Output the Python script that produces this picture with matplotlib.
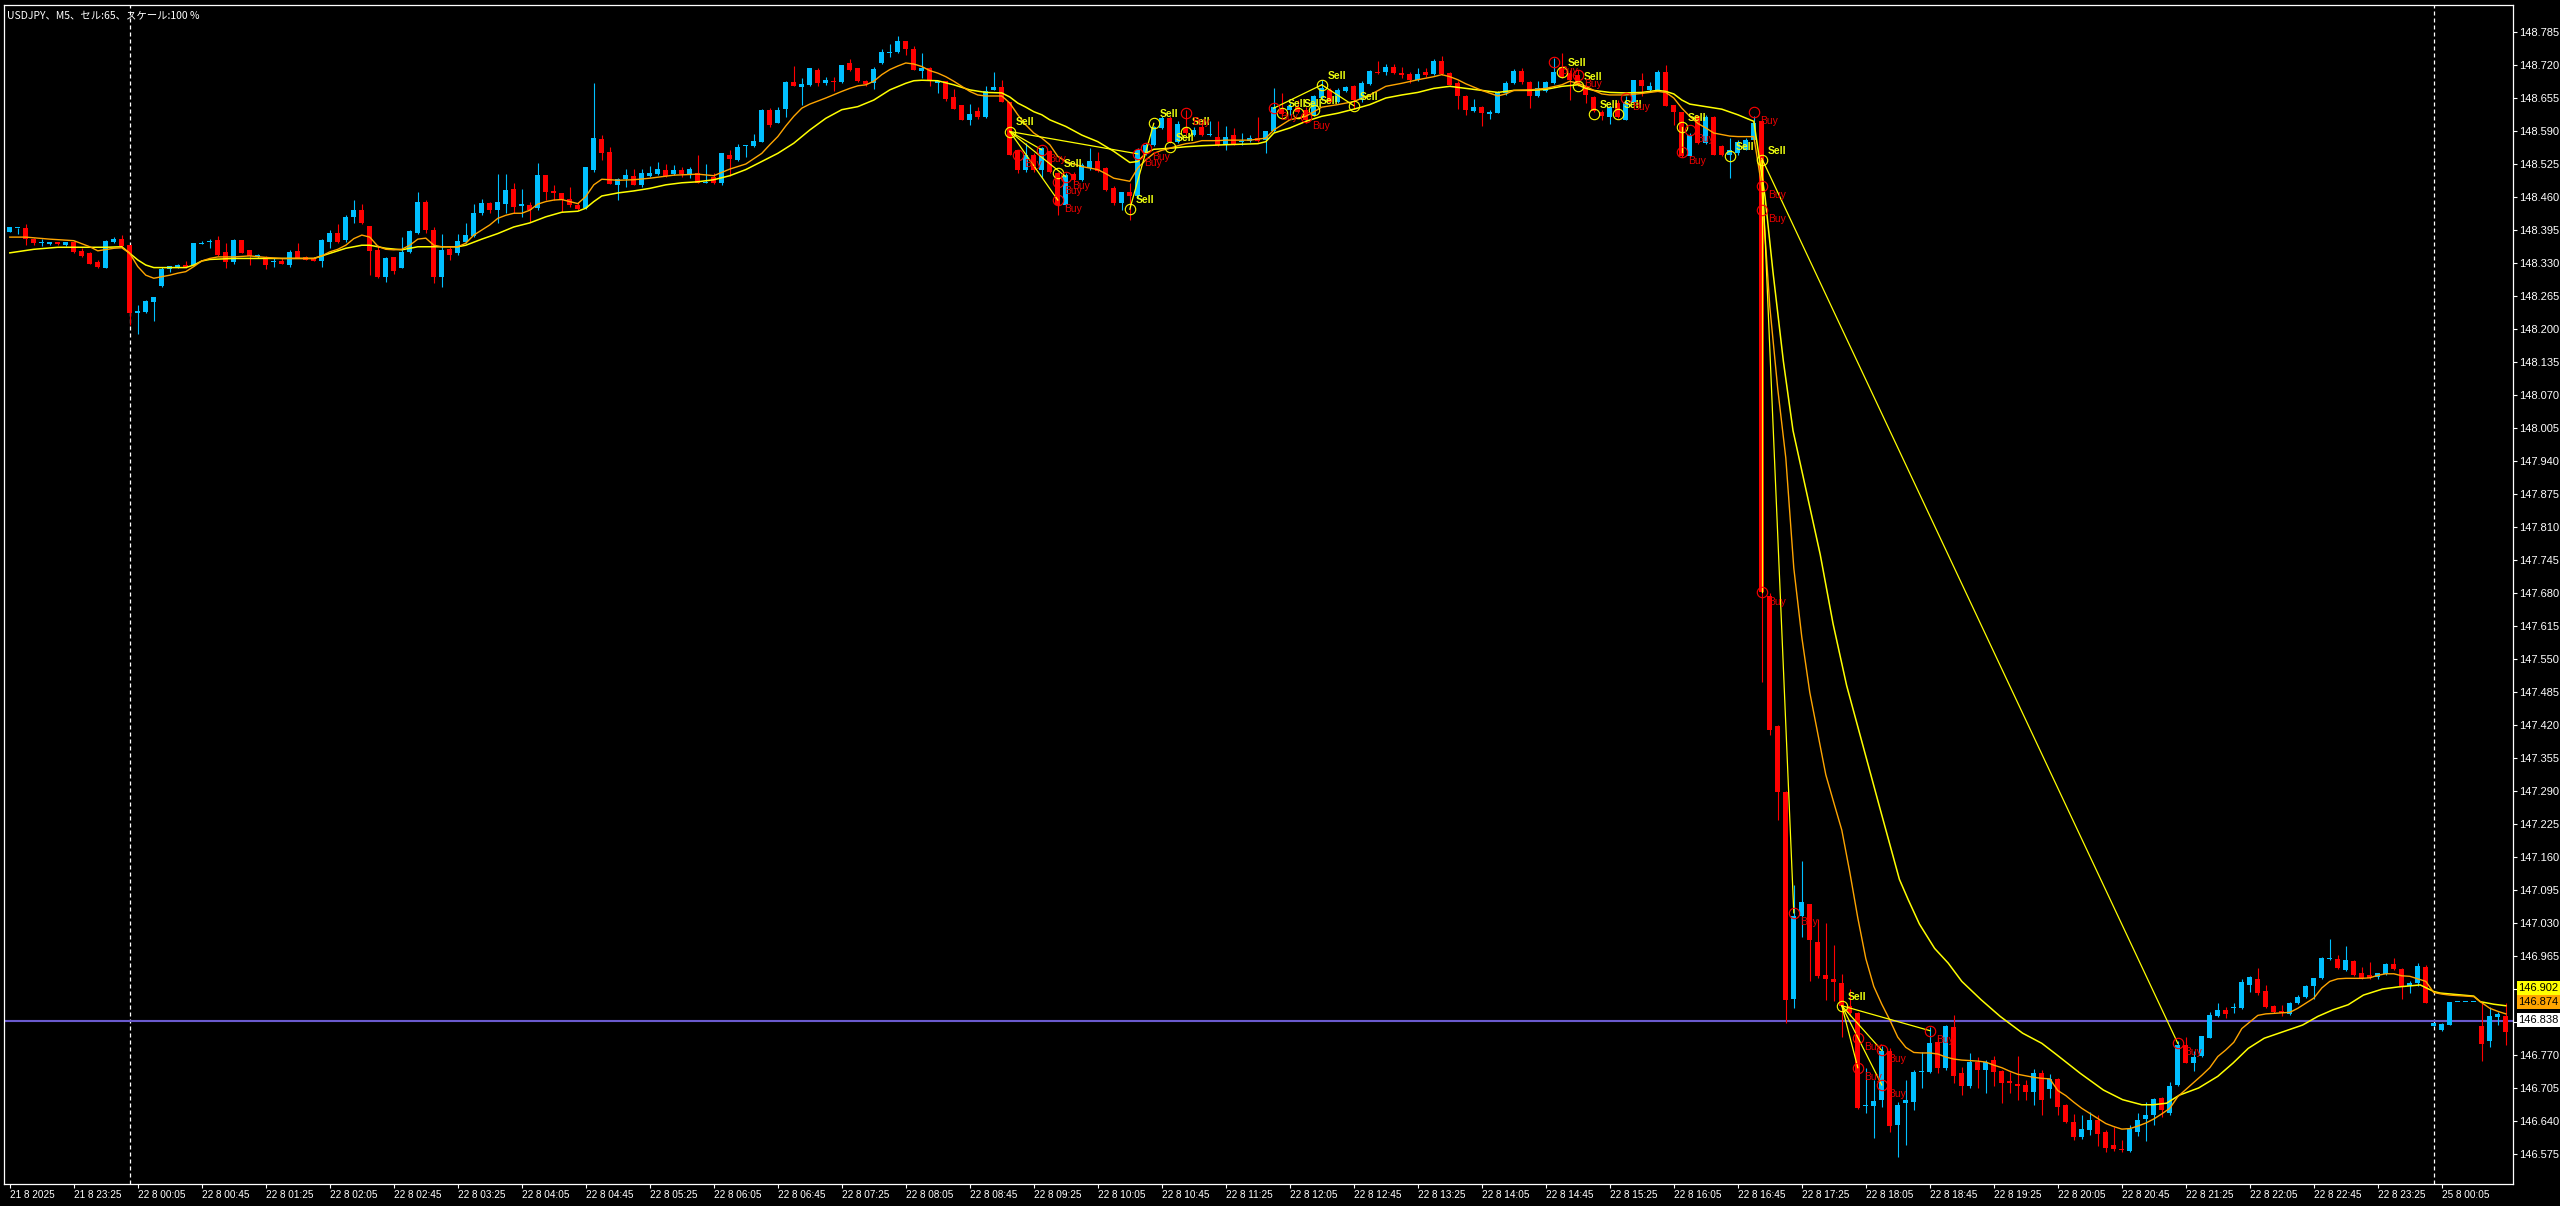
import matplotlib
matplotlib.use("Agg")
import matplotlib.pyplot as plt
import matplotlib.transforms as mtransforms

# ---------------- data ----------------
opens = [
148.392,148.398,148.398,148.378,148.369,148.367,148.371,148.365,148.372,148.354,
148.349,148.331,148.321,148.371,148.377,148.365,148.231,148.233,148.254,148.285,
148.319,148.321,148.327,148.326,148.368,148.371,148.375,148.352,148.331,148.375,
148.356,148.341,148.342,148.331,148.333,148.327,148.354,148.342,148.340,148.333,
148.372,148.390,148.375,148.421,148.434,148.403,148.356,148.303,148.341,148.321,
148.351,148.390,148.451,148.395,148.303,148.357,148.349,148.372,148.384,148.428,
148.449,148.434,148.446,148.476,148.442,148.444,148.438,148.503,148.472,148.467,
148.457,148.444,148.438,148.513,148.574,148.549,148.484,148.495,148.501,148.484,
148.502,148.505,148.514,148.505,148.514,148.506,148.507,148.488,148.499,148.487,
148.543,148.532,148.560,148.561,148.569,148.632,148.606,148.634,148.686,148.676,
148.680,148.710,148.684,148.689,148.686,148.724,148.715,148.689,148.684,148.724,
148.744,148.745,148.768,148.752,148.709,148.714,148.684,148.688,148.657,148.642,
148.611,148.630,148.617,148.671,148.676,148.648,148.552,148.514,148.543,148.514,
148.550,148.507,148.445,148.506,148.494,148.517,148.530,148.517,148.477,148.448,
148.469,148.461,148.546,148.563,148.596,148.615,148.569,148.596,148.583,148.598,
148.582,148.579,148.563,148.582,148.568,148.571,148.576,148.573,148.591,148.635,
148.632,148.638,148.632,148.622,148.655,148.671,148.648,148.668,148.679,148.651,
148.683,148.707,148.706,148.717,148.705,148.703,148.690,148.707,148.703,148.727,
148.704,148.684,148.659,148.630,148.637,148.623,148.626,148.665,148.684,148.709,
148.686,148.658,148.668,148.684,148.717,148.704,148.701,148.678,148.657,148.628,
148.617,148.645,148.612,148.645,148.690,148.670,148.670,148.707,148.642,148.628,
148.540,148.619,148.566,148.617,148.561,148.543,148.546,148.553,148.573,148.610,
147.674,147.419,147.288,146.881,147.044,147.068,146.993,146.928,146.919,146.911,
146.867,146.852,146.670,146.670,146.682,146.777,146.632,146.675,146.678,146.736,
146.736,146.796,146.744,146.826,146.734,146.709,146.757,146.741,146.760,146.739,
146.718,146.713,146.711,146.697,146.734,146.703,146.722,146.672,146.639,146.608,
146.623,146.642,146.619,146.593,146.583,146.580,146.619,146.644,146.652,146.685,
146.655,146.710,146.790,146.755,146.768,146.804,146.846,146.859,146.863,146.862,
146.908,146.920,146.896,146.866,146.856,146.850,146.872,146.885,146.906,146.921,
146.959,146.959,146.938,146.955,146.931,146.928,146.923,146.929,146.949,146.939,
146.905,146.911,146.944,146.828,146.819,146.829,146.874,146.874,146.874,146.827,
146.798,146.844,146.847]

highs = [
148.400,148.398,148.407,148.380,148.377,148.371,148.372,148.372,148.374,148.359,
148.351,148.336,148.375,148.382,148.385,148.366,148.247,148.257,148.264,148.323,
148.324,148.329,148.333,148.370,148.374,148.377,148.383,148.369,148.377,148.375,
148.356,148.347,148.344,148.339,148.339,148.356,148.369,148.344,148.342,148.377,
148.395,148.407,148.424,148.454,148.447,148.403,148.365,148.342,148.342,148.382,
148.395,148.470,148.454,148.401,148.388,148.362,148.388,148.408,148.447,148.457,
148.451,148.506,148.506,148.488,148.475,148.451,148.526,148.503,148.484,148.467,
148.480,148.451,148.520,148.684,148.583,148.559,148.497,148.516,148.516,148.516,
148.521,148.528,148.525,148.524,148.520,148.520,148.543,148.525,148.507,148.546,
148.553,148.565,148.563,148.584,148.633,148.635,148.637,148.688,148.719,148.695,
148.714,148.714,148.697,148.697,148.720,148.732,148.715,148.691,148.717,148.752,
148.762,148.777,148.768,148.758,148.743,148.717,148.689,148.688,148.673,148.642,
148.644,148.637,148.678,148.707,148.691,148.648,148.553,148.566,148.546,148.559,
148.553,148.510,148.507,148.510,148.527,148.556,148.548,148.520,148.481,148.469,
148.487,148.556,148.566,148.599,148.619,148.619,148.609,148.632,148.598,148.609,
148.609,148.609,148.599,148.596,148.586,148.582,148.617,148.590,148.674,148.665,
148.645,148.651,148.638,148.661,148.691,148.674,148.674,148.678,148.681,148.688,
148.710,148.727,148.722,148.722,148.717,148.707,148.714,148.714,148.732,148.737,
148.707,148.688,148.661,148.653,148.640,148.632,148.668,148.689,148.712,148.715,
148.688,148.688,148.689,148.733,148.743,148.710,148.710,148.681,148.659,148.632,
148.640,148.651,148.659,148.691,148.705,148.686,148.710,148.720,148.642,148.628,
148.586,148.620,148.622,148.619,148.563,148.576,148.573,148.576,148.619,148.612,
147.680,147.420,147.290,147.105,147.152,147.068,147.037,147.030,146.986,146.929,
146.900,146.854,146.744,146.721,146.787,146.784,146.678,146.721,146.741,146.775,
146.826,146.806,146.829,146.849,146.747,146.774,146.767,146.760,146.769,146.741,
146.737,146.768,146.721,146.742,146.741,146.732,146.724,146.674,146.654,146.652,
146.657,146.652,146.623,146.629,146.603,146.632,146.655,146.678,146.685,146.688,
146.716,146.797,146.806,146.777,146.808,146.854,146.873,146.865,146.872,146.919,
146.925,146.941,146.908,146.869,146.869,146.875,146.888,146.908,146.922,146.963,
146.998,146.967,146.984,146.957,146.943,146.954,146.932,146.951,146.962,146.941,
146.915,146.951,146.948,146.833,146.833,146.874,146.874,146.874,146.874,146.875,
146.865,146.854,146.872]

lows = [
148.392,148.388,148.365,148.365,148.364,148.366,148.365,148.363,148.349,148.342,
148.328,148.320,148.320,148.369,148.362,148.208,148.191,148.231,148.216,148.282,
148.313,148.320,148.321,148.325,148.367,148.359,148.344,148.320,148.329,148.349,
148.326,148.339,148.318,148.323,148.328,148.323,148.339,148.335,148.333,148.323,
148.359,148.370,148.372,148.409,148.407,148.306,148.300,148.293,148.308,148.320,
148.349,148.388,148.390,148.290,148.282,148.336,148.346,148.370,148.382,148.424,
148.428,148.408,148.428,148.428,148.421,148.411,148.434,148.454,148.454,148.431,
148.441,148.434,148.436,148.510,148.533,148.486,148.454,148.480,148.484,148.480,
148.500,148.503,148.500,148.503,148.500,148.497,148.487,148.487,148.486,148.484,
148.502,148.530,148.539,148.559,148.568,148.598,148.605,148.617,148.678,148.642,
148.678,148.678,148.680,148.669,148.684,148.709,148.686,148.679,148.672,148.722,
148.735,148.743,148.739,148.711,148.694,148.678,148.665,148.650,148.634,148.611,
148.601,148.613,148.615,148.670,148.648,148.543,148.507,148.510,148.510,148.497,
148.507,148.425,148.441,148.487,148.491,148.514,148.510,148.471,148.445,148.435,
148.415,148.458,148.543,148.561,148.594,148.566,148.567,148.583,148.581,148.581,
148.581,148.561,148.553,148.563,148.563,148.569,148.569,148.546,148.589,148.621,
148.622,148.625,148.605,148.619,148.651,148.646,148.646,148.666,148.633,148.648,
148.681,148.703,148.701,148.703,148.694,148.684,148.688,148.697,148.701,148.701,
148.681,148.633,148.622,148.628,148.600,148.613,148.625,148.661,148.683,148.683,
148.635,148.657,148.666,148.683,148.694,148.651,148.679,148.645,148.628,148.612,
148.604,148.615,148.611,148.644,148.658,148.668,148.668,148.640,148.602,148.538,
148.538,148.565,148.565,148.543,148.541,148.497,148.543,148.552,148.566,147.505,
147.400,147.233,146.833,146.863,147.003,146.915,146.922,146.879,146.877,146.806,
146.846,146.664,146.655,146.606,146.668,146.619,146.570,146.593,146.662,146.705,
146.735,146.734,146.741,146.715,146.691,146.705,146.705,146.695,146.708,146.675,
146.695,146.682,146.682,146.672,146.652,146.685,146.652,146.637,146.603,146.604,
146.613,146.590,146.578,146.580,146.578,146.578,146.611,146.600,146.632,146.648,
146.652,146.708,146.754,146.738,146.767,146.803,146.844,146.843,146.852,146.860,
146.895,146.888,146.862,146.852,146.846,146.849,146.871,146.882,146.880,146.919,
146.957,146.939,146.936,146.926,146.919,146.919,146.919,146.928,146.937,146.880,
146.893,146.905,146.873,146.828,146.818,146.829,146.874,146.874,146.874,146.759,
146.785,146.829,146.790]

closes = [
148.400,148.399,148.377,148.370,148.371,148.371,148.367,148.371,148.351,148.344,
148.329,148.323,148.373,148.378,148.364,148.231,148.235,148.255,148.264,148.318,
148.324,148.327,148.323,148.369,148.370,148.374,148.346,148.331,148.375,148.350,
148.344,148.346,148.326,148.333,148.329,148.352,148.340,148.336,148.334,148.375,
148.390,148.372,148.421,148.434,148.408,148.354,148.303,148.339,148.315,148.352,
148.394,148.451,148.395,148.303,148.356,148.346,148.374,148.386,148.428,148.449,
148.434,148.451,148.474,148.441,148.446,148.434,148.503,148.470,148.468,148.454,
148.444,148.436,148.520,148.577,148.547,148.486,148.495,148.503,148.484,148.507,
148.508,148.515,148.502,148.513,148.505,148.516,148.488,148.490,148.487,148.546,
148.535,148.559,148.562,148.571,148.632,148.602,148.632,148.686,148.678,148.683,
148.714,148.684,148.691,148.686,148.720,148.711,148.688,148.683,148.712,148.745,
148.746,148.768,148.751,148.711,148.715,148.688,148.689,148.653,148.634,148.611,
148.623,148.617,148.668,148.676,148.648,148.543,148.514,148.543,148.514,148.556,
148.510,148.445,148.504,148.494,148.523,148.530,148.512,148.474,148.448,148.469,
148.461,148.553,148.563,148.598,148.615,148.569,148.604,148.586,148.592,148.583,
148.584,148.563,148.579,148.565,148.570,148.576,148.571,148.590,148.638,148.624,
148.640,148.628,148.612,148.658,148.674,148.648,148.671,148.676,148.651,148.684,
148.709,148.704,148.716,148.705,148.701,148.690,148.703,148.701,148.727,148.703,
148.681,148.659,148.632,148.637,148.625,148.628,148.666,148.684,148.709,148.686,
148.659,148.674,148.686,148.707,148.697,148.691,148.681,148.661,148.630,148.619,
148.637,148.617,148.648,148.690,148.678,148.679,148.707,148.640,148.628,148.540,
148.582,148.566,148.617,148.543,148.543,148.553,148.569,148.573,148.605,147.681,
147.410,147.288,146.878,147.044,147.071,146.996,146.926,146.920,146.913,146.867,
146.852,146.665,146.672,146.680,146.777,146.630,146.672,146.681,146.737,146.738,
146.793,146.744,146.827,146.728,146.709,146.757,146.741,146.757,146.737,146.715,
146.715,146.708,146.698,146.734,146.682,146.722,146.668,146.639,146.609,146.624,
146.641,146.615,146.586,146.584,146.582,146.624,146.642,146.652,146.683,146.661,
146.708,146.790,146.755,146.767,146.808,146.849,146.859,146.851,146.864,146.913,
146.923,146.893,146.864,146.854,146.852,146.872,146.885,146.906,146.921,146.961,
146.961,146.941,146.957,146.928,146.921,146.921,146.931,146.949,146.939,146.906,
146.911,146.945,146.873,146.833,146.831,146.874,146.874,146.874,146.874,146.791,
146.846,146.850,146.816]

# fast (orange) moving average: bar position, value
fast_ma_bar = [0,2,5,8,10,11,13,14,15,16,17,18,19,20,21,22,23,24,25,26,28,30,32,34,36,38,39,40,41,42,
               43,44,45,46,47,48,49,50,51,52,53,54,56,57,58,59,60,61,62,63,64,65,66,67,68,69,70,71,72,73,
               74,76,78,80,83,86,88,90,92,94,95,96,97,98,99,100,102,104,105,106,107,108,109,110,111,112,113,114,115,116,
               117,118,119,120,121,122,123,124,125,126,127,128,129,130,131,132,133,134,135,136,137,138,139,140,
               141,142,143,144,145,146,147,148,149,151,152,155,157,158,160,162,164,166,168,170,172,174,176,178,179,
               180,181,182,184,186,187,188,190,192,194,195,196,197,198,199,200,202,204,206,207,208,209,210,211,212,
               213,214,215,216,218,
               219,220,221,222,223,224,225,226,227,228,229,230,231,232,233,234,235,236,237,238,239,240,241,242,243,
               244,245,246,247,248,249,250,251,252,253,254,255,256,257,258,259,260,261,262,263,264,265,266,267,268,
               269,270,271,272,273,274,275,276,277,278,279,280,281,282,283,284,285,286,287,288,289,290,291,292,293,
               294,295,296,297,298,299,300,301,302,303,304,305,306,307,308,309,310,311,312]
fast_ma_val = [148.381,148.381,148.377,148.374,148.362,148.354,148.359,148.360,148.349,148.323,148.306,148.300,148.303,148.306,148.310,148.313,148.323,148.334,148.339,148.342,148.342,148.344,148.341,148.339,148.339,148.339,148.344,148.352,148.357,148.365,
               148.378,148.385,148.381,148.363,148.357,148.356,148.357,148.365,148.377,148.379,148.365,148.362,148.362,148.369,148.385,148.395,148.405,148.418,148.424,148.428,148.428,148.434,148.446,148.451,148.454,148.455,148.451,148.447,148.461,148.484,
               148.495,148.493,148.494,148.497,148.503,148.505,148.502,148.515,148.525,148.546,148.563,148.579,148.600,148.619,148.635,148.643,148.655,148.668,148.674,148.679,148.681,148.688,148.701,148.711,148.718,148.724,148.722,148.717,148.709,148.704,
               148.697,148.688,148.678,148.668,148.661,148.659,148.659,148.659,148.645,148.622,148.602,148.586,148.576,148.563,148.540,148.530,148.525,148.520,148.517,148.514,148.506,148.497,148.494,148.491,
               148.517,148.533,148.546,148.552,148.556,148.561,148.565,148.567,148.571,148.571,148.572,148.572,148.576,148.592,148.612,148.619,148.637,148.642,148.648,148.661,148.678,148.684,148.691,148.697,148.701,
               148.697,148.691,148.683,148.670,148.659,148.663,148.670,148.671,148.674,148.681,148.688,148.684,148.678,148.670,148.663,148.661,148.661,148.664,148.668,148.666,148.655,148.635,148.619,148.605,148.596,
               148.586,148.583,148.580,148.579,148.579,
               148.480,148.244,148.081,147.946,147.729,147.593,147.484,147.403,147.322,147.267,147.213,147.130,147.040,146.960,146.905,146.870,146.839,146.805,146.785,146.775,146.774,146.774,146.772,146.766,146.762,
               146.760,146.759,146.758,146.756,146.750,146.745,146.738,146.732,146.729,146.726,146.724,146.723,146.700,146.690,146.677,146.665,146.655,146.645,146.635,146.629,146.624,146.625,146.630,146.636,146.644,
               146.654,146.665,146.688,146.702,146.716,146.730,146.745,146.767,146.780,146.795,146.822,146.835,146.848,146.851,146.852,146.853,146.854,146.862,146.872,146.882,146.902,146.915,146.920,146.921,146.921,
               146.921,146.922,146.927,146.930,146.930,146.926,146.925,146.920,146.915,146.893,146.890,146.888,146.887,146.886,146.885,146.873,146.862,146.856,146.851]

# slow (yellow) moving average: bar position, value
slow_ma_bar = [0,3,6,9,12,14,15,16,17,18,22,23,24,25,28,34,38,40,42,44,45,47,49,51,56,57,59,61,63,65,
               67,69,71,72,73,74,76,78,80,82,84,86,88,90,92,94,96,98,100,102,104,106,108,110,112,113,114,116,118,120,
               122,124,125,126,127,128,129,130,132,134,136,138,140,141,142,143,145,147,149,152,156,157,158,160,162,164,166,168,170,172,
               174,176,178,180,182,184,186,188,190,192,194,196,197,198,200,202,204,206,207,208,209,210,212,214,216,218,
               219.4,220.4,221.7,222.9,224.6,226.3,227.9,229.6,231.7,233.8,236.2,237.3,238.7,240.6,242.3,244.0,246.4,248.8,251.6,254.0,
               255.9,258.8,261.7,264.1,266.5,267.9,269.6,271.2,273.6,276.0,277.9,279.8,281.8,284.2,286.6,288.5,290.4,292.3,294.2,296.6,
               298.5,301.3,303.0,303.8,308.0,308.8,310.5,312.0]
slow_ma_val = [148.350,148.357,148.361,148.361,148.361,148.362,148.349,148.336,148.326,148.321,148.321,148.326,148.334,148.337,148.339,148.339,148.339,148.349,148.359,148.365,148.365,148.359,148.356,148.362,148.362,148.365,148.377,148.388,148.401,148.409,
               148.421,148.430,148.432,148.438,148.451,148.462,148.468,148.472,148.477,148.484,148.488,148.490,148.494,148.502,148.514,148.530,148.546,148.566,148.592,148.615,148.632,148.638,148.651,148.671,148.684,148.689,148.690,148.689,148.681,148.671,
               148.666,148.665,148.657,148.645,148.637,148.628,148.622,148.612,148.599,148.582,148.569,148.550,148.528,148.530,148.546,148.554,148.556,148.559,148.561,148.563,148.565,148.569,148.586,148.596,148.609,148.619,148.625,148.633,148.642,148.655,
               148.661,148.666,148.674,148.678,148.674,148.670,148.666,148.670,148.670,148.672,148.678,148.681,148.674,148.670,148.666,148.665,148.666,148.670,148.668,148.663,148.651,148.643,148.638,148.633,148.622,148.609,
               148.461,148.312,148.136,148.000,147.878,147.756,147.620,147.498,147.376,147.254,147.116,147.076,147.028,146.980,146.951,146.915,146.879,146.846,146.813,146.793,
               146.770,146.734,146.701,146.682,146.672,146.672,146.675,146.691,146.705,146.728,146.754,146.783,146.803,146.816,146.829,146.846,146.859,146.869,146.888,146.900,
               146.904,146.908,146.895,146.892,146.886,146.875,146.870,146.867]

# signal arrows (circle + text)
sell_bar = [125,131,140,143,145,147,159,161,163,164,168,194,196,198,201,209,215,219,229]
sell_price = [148.589,148.507,148.436,148.605,148.559,148.589,148.626,148.626,148.632,148.681,148.640,
              148.707,148.679,148.624,148.624,148.598,148.540,148.532,146.867]
buy_bar = [126,129,131,132,131,141,142,147,158,162,193,196,202,209,210,218,219,219,219,223,231,231,234,234,240,271]
buy_price = [148.543,148.553,148.490,148.500,148.454,148.545,148.556,148.626,148.635,148.617,148.726,148.700,
             148.655,148.548,148.592,148.627,148.481,148.434,147.681,147.050,146.804,146.745,146.779,146.711,
             146.817,146.793]

# trade connection lines: start bar, start price, end bar, end price
trade_bar0 = [125,125,125,125,140,158,164,209,219,219,219,229,229,229,229]
trade_px0 = [148.589,148.589,148.589,148.589,148.436,148.635,148.681,148.598,148.532,148.532,148.536,
             146.867,146.867,146.867,146.867]
trade_bar1 = [129,131,132,141,143,164,168,209,219,223,271,231,234,234,240]
trade_px1 = [148.553,148.454,148.500,148.545,148.605,148.681,148.640,148.548,147.681,147.050,146.793,
             146.745,146.711,146.779,146.818]

y_tick_values = [148.785,148.720,148.655,148.590,148.525,148.460,148.395,148.330,148.265,148.200,148.135,
                 148.070,148.005,147.940,147.875,147.810,147.745,147.680,147.615,147.550,147.485,147.420,
                 147.355,147.290,147.225,147.160,147.095,147.030,146.965,146.900,146.835,146.770,146.705,
                 146.640,146.575]
hidden_y_labels = [146.900, 146.835]

x_tick_bars = [0,8,16,24,32,40,48,56,64,72,80,88,96,104,112,120,128,136,144,152,160,168,176,184,192,
               200,208,216,224,232,240,248,256,264,272,280,288,296,304]
x_tick_labels = ["21 8 2025","21 8 23:25","22 8 00:05","22 8 00:45","22 8 01:25","22 8 02:05","22 8 02:45",
                 "22 8 03:25","22 8 04:05","22 8 04:45","22 8 05:25","22 8 06:05","22 8 06:45","22 8 07:25",
                 "22 8 08:05","22 8 08:45","22 8 09:25","22 8 10:05","22 8 10:45","22 8 11:25","22 8 12:05",
                 "22 8 12:45","22 8 13:25","22 8 14:05","22 8 14:45","22 8 15:25","22 8 16:05","22 8 16:45",
                 "22 8 17:25","22 8 18:05","22 8 18:45","22 8 19:25","22 8 20:05","22 8 20:45","22 8 21:25",
                 "22 8 22:05","22 8 22:45","22 8 23:25","25 8 00:05"]
day_separator_bars = [15, 303]

bid_price = 146.838
price_tags = [146.902, 146.874, 146.838]
price_tag_colors = ["#FFFF00", "#FFA500", "#FFFFFF"]

title = "USDJPY、M5、セル:65、スケール:100 %"

# ---------------- style ----------------
BULL = "#00BFFF"
BEAR = "#FF0000"
FAST = "#FFA500"
SLOW = "#FFFF00"
SELLC = "#EEFF10"
BUYC = "#EE0000"
BIDC = "#6A5ACD"
FONT = ["Liberation Sans", "DejaVu Sans"]

W, H = 2560, 1206
fig = plt.figure(figsize=(W / 100, H / 100), dpi=100, facecolor="black")
left_px, right_px, top_px, bot_px = 4, 2513, 5, 1184
ax = fig.add_axes([left_px / W, (H - bot_px) / H, (right_px - left_px) / W, (bot_px - top_px) / H])
ax.set_facecolor("black")
ax.set_xlim(-0.725, 312.9)
ax.set_ylim(146.5159, 148.8382)

# separators
for b in day_separator_bars:
    ax.axvline(b, color="white", lw=0.9, ls=(0, (3.2, 2.4)), zorder=0.5)

# candles
n = len(opens)
idx = list(range(n))
cols = [BULL if closes[i] >= opens[i] else BEAR for i in idx]
ax.vlines(idx, lows, highs, colors=cols, lw=0.8, zorder=2)
bottoms = [min(opens[i], closes[i]) for i in idx]
heights = [max(abs(closes[i] - opens[i]), 0.0022) for i in idx]
ax.bar(idx, heights, bottom=bottoms, width=0.62, color=cols, linewidth=0, zorder=2.5)

# bid line (drawn as a thin double line)
ax.axhline(bid_price + 0.0019, color=BIDC, lw=0.8, zorder=1.5)
ax.axhline(bid_price - 0.0019, color=BIDC, lw=0.8, zorder=1.5)

# moving averages
ax.plot(slow_ma_bar, slow_ma_val, color=SLOW, lw=1.1, zorder=3)
ax.plot(fast_ma_bar, fast_ma_val, color=FAST, lw=1.0, zorder=3.1)

# trade lines
for b0, p0, b1, p1 in zip(trade_bar0, trade_px0, trade_bar1, trade_px1):
    ax.plot([b0, b1], [p0, p1], color=SLOW, lw=0.9, zorder=3.2)

# signals
ax.plot(sell_bar, sell_price, ls="none", marker="o", ms=7.5, mfc="none", mec=SLOW, mew=0.8, zorder=4)
ax.plot(buy_bar, buy_price, ls="none", marker="o", ms=7.5, mfc="none", mec=BEAR, mew=0.8, zorder=4)
for b, p in zip(sell_bar, sell_price):
    ax.annotate("Sell", (b, p), xytext=(4.5, 6.5), textcoords="offset points", ha="left", va="center",
                color=SELLC, fontsize=7.5, fontweight="bold", family=FONT, zorder=5)
for b, p in zip(buy_bar, buy_price):
    ax.annotate("Buy", (b, p), xytext=(4.5, -6.5), textcoords="offset points", ha="left", va="center",
                color=BUYC, fontsize=7.5, family=FONT, zorder=5)

# frame
for s in ax.spines.values():
    s.set_color("white")
    s.set_linewidth(0.9)

# y axis on right
ax.yaxis.tick_right()
ax.set_yticks(y_tick_values)
ax.set_yticklabels(["" if v in hidden_y_labels else f"{v:.3f}" for v in y_tick_values])
ax.tick_params(axis="y", colors="white", length=2.6, width=0.8, pad=1.5, labelsize=8)
for t in ax.get_yticklabels():
    t.set_family(FONT)

# x axis
ax.set_xticks(x_tick_bars)
ax.set_xticklabels(x_tick_labels, ha="left")
ax.tick_params(axis="x", colors="white", length=3.0, width=0.8, pad=1.2, labelsize=7.2)
for t in ax.get_xticklabels():
    t.set_family(FONT)

# price tags
trans = mtransforms.blended_transform_factory(ax.transAxes, ax.transData)
for p, c in zip(price_tags, price_tag_colors):
    ax.text(1.0022, p, f"{p:.3f}", transform=trans, ha="left", va="center", fontsize=8, family=FONT,
            color="black", bbox=dict(boxstyle="square,pad=0.18", fc=c, ec="none"), zorder=10, clip_on=False)

# title
fig.text(7 / W, 1 - 15.5 / H, title, color="white", fontsize=7.5, ha="left", va="center",
         family=["Noto Sans CJK JP", "DejaVu Sans"])

fig.savefig("out.png", dpi=100, facecolor="black")
